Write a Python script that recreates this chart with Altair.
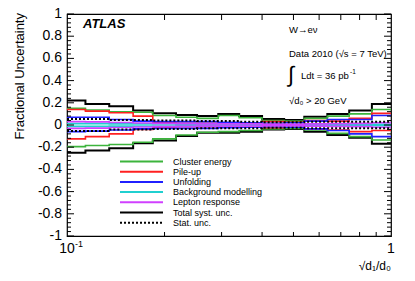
import altair as alt
import pandas as pd

# ---------------- data ----------------
edges = [0.1, 0.114, 0.135, 0.160, 0.184, 0.217, 0.252, 0.293, 0.340,
         0.400, 0.468, 0.540, 0.636, 0.743, 0.873, 1.0]

components = ["Cluster energy", "Pile-up", "Unfolding", "Background modelling",
              "Lepton response", "Total syst. unc.", "Stat. unc."]
colors = ["#3cb43c", "#ff2020", "#2020ff", "#20d0d0", "#d040ff", "#000000", "#000000"]

total_up = [0.22, 0.19, 0.17, 0.13, 0.105, 0.09, 0.08, 0.10, 0.08, 0.055, 0.045, 0.075, 0.10, 0.13, 0.19]
total_dn = [-0.25, -0.23, -0.21, -0.165, -0.14, -0.10, -0.07, -0.07, -0.06, -0.04, -0.035, -0.06, -0.09, -0.115, -0.17]
cluster_up = [0.15, 0.135, 0.12, 0.115, 0.085, 0.07, 0.06, 0.085, 0.065, 0.04, 0.035, 0.06, 0.08, 0.10, 0.14]
cluster_dn = [-0.195, -0.185, -0.175, -0.155, -0.125, -0.09, -0.065, -0.06, -0.05, -0.035, -0.03, -0.045, -0.075, -0.105, -0.135]
pileup_up = [0.14, 0.125, 0.11, 0.08, 0.02, 0.015, 0.015, 0.02, 0.02, 0.03, 0.025, 0.04, 0.035, 0.06, 0.105]
pileup_dn = [-0.125, -0.105, -0.08, -0.04, -0.02, -0.015, -0.015, -0.02, -0.02, -0.025, -0.02, -0.035, -0.045, -0.06, -0.05]
unfold_up = [0.07, 0.07, 0.05, 0.035, 0.03, 0.03, 0.03, 0.025, 0.02, 0.015, 0.02, 0.035, 0.05, 0.05, 0.085]
unfold_dn = [-0.06, -0.055, -0.045, -0.035, -0.03, -0.03, -0.03, -0.025, -0.02, -0.015, -0.02, -0.035, -0.05, -0.08, -0.105]
bkg_up = [0.012, 0.012, 0.01, 0.01, 0.01, 0.008, 0.008, 0.008, 0.008, 0.006, 0.006, 0.006, 0.006, 0.006, 0.006]
bkg_dn = [-0.012, -0.012, -0.01, -0.01, -0.01, -0.008, -0.008, -0.008, -0.008, -0.006, -0.006, -0.006, -0.006, -0.006, -0.006]
lepton_up = [0.03, 0.028, 0.022, 0.018, 0.015, 0.012, 0.01, 0.01, 0.01, 0.008, 0.008, 0.01, 0.012, 0.015, 0.02]
lepton_dn = [-0.03, -0.028, -0.022, -0.018, -0.015, -0.012, -0.01, -0.01, -0.01, -0.008, -0.008, -0.01, -0.012, -0.015, -0.02]
stat_up = [0.055, 0.055, 0.045, 0.045, 0.04, 0.04, 0.035, 0.035, 0.03, 0.025, 0.025, 0.03, 0.03, 0.03, 0.03]
stat_dn = [-0.055, -0.055, -0.04, -0.04, -0.035, -0.035, -0.03, -0.03, -0.03, -0.025, -0.025, -0.03, -0.03, -0.03, -0.03]

y_major = [-1.0, -0.8, -0.6, -0.4, -0.2, 0.0, 0.2, 0.4, 0.6, 0.8, 1.0]
y_minor = [v / 100 for v in range(-96, 100, 4) if v % 20 != 0]
x_ticks = [0.2, 0.3, 0.4, 0.5, 0.6, 0.7, 0.8, 0.9]

series = {
    "Cluster energy": (cluster_up, cluster_dn),
    "Pile-up": (pileup_up, pileup_dn),
    "Unfolding": (unfold_up, unfold_dn),
    "Background modelling": (bkg_up, bkg_dn),
    "Lepton response": (lepton_up, lepton_dn),
    "Total syst. unc.": (total_up, total_dn),
    "Stat. unc.": (stat_up, stat_dn),
}

rows = []
for comp, (up, dn) in series.items():
    for side, vals in (("up", up), ("dn", dn)):
        vv = list(vals) + [vals[-1]]
        for i, (e, v) in enumerate(zip(edges, vv)):
            rows.append({"comp": comp, "side": side, "x": e, "y": v, "i": i})
df = pd.DataFrame(rows)

W, H = 324, 222
FONT = "Liberation Sans"

xs = alt.X("x:Q", scale=alt.Scale(type="log", domain=[0.1, 1]), axis=None)
ys = alt.Y("y:Q", scale=alt.Scale(domain=[-1, 1]), axis=None)
cscale = alt.Scale(domain=components, range=colors)

def hist(names, dash=None, width=1.6):
    kw = dict(interpolate="step-after", strokeWidth=width, clip=True)
    if dash:
        kw["strokeDash"] = dash
    return alt.Chart(df[df.comp.isin(names)]).mark_line(**kw).encode(
        x=xs, y=ys,
        color=alt.Color("comp:N", scale=cscale, legend=None),
        detail="side:N", order="i:Q")

total_l = hist(["Total syst. unc."], width=2)
colored_l = hist(["Cluster energy", "Pile-up", "Unfolding", "Background modelling", "Lepton response"])
stat_l = hist(["Stat. unc."], dash=[2, 2], width=2)

# ---- ticks (inside the frame) ----
ymaj = pd.DataFrame({"y": y_major})
ymin = pd.DataFrame({"y": y_minor})
xt = pd.DataFrame({"x": x_ticks})

yaxis_lab = alt.Chart(ymaj).mark_text(align="right", baseline="middle", fontSize=14, font=FONT, dx=-5).encode(
    x=alt.value(0), y=ys,
    text=alt.Text("lab:N")).transform_calculate(
    lab="datum.y == 0 ? '0' : (datum.y < 0 ? '-' : '') + format(abs(datum.y), '~g')")

def yt(d, L):
    a = alt.Chart(d).mark_rule(color="black", strokeWidth=1).encode(y=ys, x=alt.value(0), x2=alt.value(L))
    b = alt.Chart(d).mark_rule(color="black", strokeWidth=1).encode(y=ys, x=alt.value(W - L), x2=alt.value(W))
    return a + b

xtop = alt.Chart(xt).mark_rule(color="black", strokeWidth=1).encode(x=xs, y=alt.value(0), y2=alt.value(6))
xbot = alt.Chart(xt).mark_rule(color="black", strokeWidth=1).encode(x=xs, y=alt.value(H - 4), y2=alt.value(H))

xlab_df = pd.DataFrame({"x": [0.1, 1.0], "t": ["10", "1"]})
xlab = alt.Chart(xlab_df).mark_text(fontSize=14, font=FONT, baseline="alphabetic", align="center").encode(
    x=xs, y=alt.value(H + 17), text="t:N")
xsup = alt.Chart(pd.DataFrame({"t": ["-1"]})).mark_text(
    fontSize=9, font=FONT, baseline="alphabetic", align="left").encode(
    x=alt.value(8), y=alt.value(H + 11), text="t:N")

# ---- legend ----
leg_names = components
leg = pd.DataFrame({"comp": leg_names, "py": [147.5 + 10.2 * k for k in range(len(leg_names))]})
leg_lines = alt.Chart(leg[leg.comp != "Stat. unc."]).mark_rule(strokeWidth=2).encode(
    x=alt.value(53), x2=alt.value(96), y=alt.Y("py:Q", scale=None),
    color=alt.Color("comp:N", scale=cscale, legend=None))
leg_stat = alt.Chart(leg[leg.comp == "Stat. unc."]).mark_rule(strokeWidth=2, strokeDash=[2, 2], color="black").encode(
    x=alt.value(53), x2=alt.value(96), y=alt.Y("py:Q", scale=None))
leg_text = alt.Chart(leg).mark_text(align="left", baseline="middle", fontSize=9, font=FONT).encode(
    x=alt.value(106), y=alt.Y("py:Q", scale=None), text="comp:N")

# ---- annotations ----
def txt(s, x, y, size=9.5, **kw):
    return alt.Chart(pd.DataFrame({"t": [s]})).mark_text(
        font=FONT, fontSize=size, align=kw.pop("align", "left"), baseline=kw.pop("baseline", "middle"), **kw
    ).encode(x=alt.value(x), y=alt.value(y), text="t:N")

atlas = txt("ATLAS", 16, 10, size=13, fontWeight="bold", fontStyle="italic")
ann = [
    txt("W\u2192e\u03bd", 222, 16),
    txt("Data 2010 (\u221as = 7 TeV)", 222, 40),
    txt("\u222b", 221, 61, size=22),
    txt("Ldt = 36 pb", 234, 62),
    txt("-1", 283, 58, size=6.5),
    txt("\u221ad\u2080 > 20 GeV", 222, 87),
]
ytitle = txt("Fractional Uncertainty", -47, -1, size=13, angle=270, align="right")
xtitle = txt("\u221ad\u2081/d\u2080", W, H + 30, size=12, align="right")

layers = [total_l, colored_l, stat_l, yt(ymaj, 7), yt(ymin, 4), xtop, xbot,
          yaxis_lab, xlab, xsup, leg_lines, leg_stat, leg_text, atlas, ytitle, xtitle] + ann

chart = alt.layer(*layers).properties(
    width=W, height=H,
    autosize=alt.AutoSizeParams(type="none"),
    padding={"left": 59, "top": 6, "right": 16, "bottom": 37},
    background="white",
).configure_view(stroke="black", strokeWidth=1.2)

chart.save("out.html", embed_options={"renderer": "svg", "actions": False})
